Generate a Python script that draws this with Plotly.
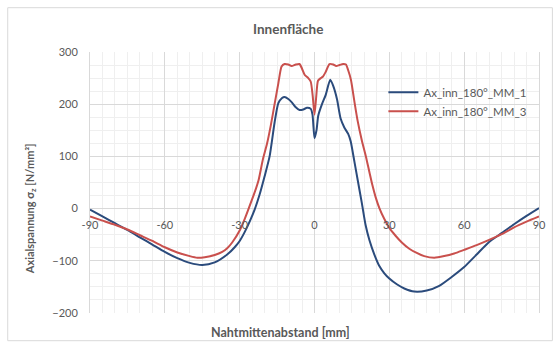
import plotly.graph_objects as go

# ---- data ----
x_mm1 = [-90, -85, -80, -75, -70, -65, -60, -55, -50, -45, -40, -35, -32, -30, -28, -26, -24, -22, -20, -18,
         -16, -14.5, -13, -12, -10.5, -9, -7.5, -6, -4.5, -3, -1.5, -0.8, 0, 0.8, 1.5, 3, 4.5, 6.3, 7.5, 9,
         10.5, 12, 13.5, 14.5, 16, 17.5, 19, 20.5, 22, 24, 26, 28, 30, 33, 36, 40, 45, 50, 55, 60,
         65, 70, 75, 80, 85, 90]
y_mm1 = [-2, -15, -28, -41, -55, -69, -83, -95, -104, -108, -103, -88, -74, -62, -45, -25, -2, 27, 62, 100,
         165, 202, 212, 214, 210, 203, 194, 189, 190, 193, 191, 180, 135, 150, 178, 200, 218, 247, 235, 210,
         172, 155, 143, 129, 90, 50, 10, -32, -60, -88, -110, -124, -134, -145, -153, -159, -157, -148, -131, -112,
         -88, -64, -47, -30, -14, 1]

x_mm3 = [-90, -85, -80, -75, -70, -65, -60, -55, -50, -47, -44, -40, -37, -35, -33, -30, -28, -26.4, -24, -22.4,
         -20.7, -19, -17.5, -16, -14.5, -13.2, -12, -10.5, -9.2, -7.5, -6, -5, -3.9, -2.5, -1.5, -0.7, 0, 0.7, 1.4, 2.5,
         3.4, 4.5, 6, 7.5, 8.7, 10, 11.5, 12.6, 13.5, 14.6, 16, 17.3, 19, 20.6, 22, 23.2, 24.5, 26, 28, 30,
         32.5, 35, 38, 41, 44, 48, 52, 56, 60, 65, 70, 75, 80, 85, 90]
y_mm3 = [-15, -23, -31, -40, -51, -62, -74, -84, -91, -94, -93, -89, -83, -76, -65, -42, -20, 0, 31, 55,
         94, 125, 160, 200, 240, 272, 277, 276, 273, 276, 277, 268, 256, 250, 243, 215, 180, 215, 245, 250,
         253, 262, 277, 276, 273, 275, 277, 276, 265, 247, 205, 168, 130, 100, 70, 45, 22, 1, -20, -37,
         -52, -65, -77, -85, -91, -94, -91, -86, -79, -70, -60, -49, -36, -25, -15]

series_names = ["Ax_inn_180°_MM_1", "Ax_inn_180°_MM_3"]
x_ticks = [-90, -60, -30, 0, 30, 60, 90]
y_ticks = [-200, -100, 0, 100, 200, 300]

title_text = "Innenfläche"
x_title = "Nahtmittenabstand [mm]"
y_title = "Axialspannung σ<sub>z</sub> [N/mm²]"

# ---- layout geometry ----
W, H = 558, 343
L, R, T, B = 90, 543, 52.3, 313.3
pw, ph = R - L, B - T


def px(xp):
    return (xp - L) / pw


def py(yp):
    return (B - yp) / ph


FONT = "Lato"
GREY = "#595959"

fig = go.Figure()
fig.add_trace(go.Scatter(x=x_mm1, y=y_mm1, mode="lines", name=series_names[0],
                         line=dict(color="#2B4B7C", width=2, shape="spline", smoothing=0.6)))
fig.add_trace(go.Scatter(x=x_mm3, y=y_mm3, mode="lines", name=series_names[1],
                         line=dict(color="#C9504D", width=2, shape="spline", smoothing=0.6)))

fig.update_layout(
    width=W, height=H,
    margin=dict(l=L, r=W - R, t=T, b=H - B),
    paper_bgcolor="white", plot_bgcolor="white",
    font=dict(family=FONT, size=11, color=GREY),
    showlegend=True,
    legend=dict(x=px(386), y=py(78), xanchor="left", yanchor="top",
                bgcolor="rgba(0,0,0,0)", font=dict(family=FONT, size=11.5, color=GREY),
                tracegroupgap=0),
    title=dict(text="<b>" + title_text + "</b>", x=px(290), xref="paper", xanchor="center",
               y=1 - 29 / H, yanchor="middle", font=dict(family=FONT, size=13.5, color=GREY)),
    xaxis=dict(range=[-90, 90], tickmode="array", tickvals=x_ticks,
               ticktext=[str(v) for v in x_ticks],
               showgrid=True, gridcolor="#D9D9D9", gridwidth=1, zeroline=False,
               showline=False, ticks="", anchor="free", position=py(209),
               ticklabelstandoff=8,
               minor=dict(dtick=5, showgrid=True, gridcolor="#EFEFEF", ticks=""),
               tickfont=dict(family=FONT, size=11, color=GREY)),
    yaxis=dict(range=[-200, 300], tickmode="array", tickvals=y_ticks,
               showgrid=True, gridcolor="#D9D9D9", gridwidth=1, zeroline=False,
               showline=True, mirror=True, linecolor="#D9D9D9", ticks="",
               ticklabelstandoff=9,
               minor=dict(dtick=25, showgrid=True, gridcolor="#EFEFEF", ticks=""),
               tickfont=dict(family=FONT, size=11, color=GREY)),
    annotations=[
        dict(text="<b>" + x_title + "</b>", xref="paper", yref="paper", x=px(282), y=py(333),
             xanchor="center", yanchor="middle", showarrow=False,
             font=dict(family=FONT, size=12.5, color=GREY)),
        dict(text="<b>" + y_title + "</b>", xref="paper", yref="paper", x=px(30), y=py(209),
             xanchor="center", yanchor="middle", textangle=-90, showarrow=False,
             font=dict(family=FONT, size=11, color=GREY)),
    ],
    shapes=[
        dict(type="rect", xref="paper", yref="paper", x0=px(7), x1=px(556.5), y0=py(341), y1=py(8),
             line=dict(color="#D9D9D9", width=1), fillcolor="rgba(0,0,0,0)", layer="below"),
    ],
)

fig.write_html("out.html", config={"displayModeBar": False},
               post_script="document.body.style.margin='0';document.body.style.padding='0';")
